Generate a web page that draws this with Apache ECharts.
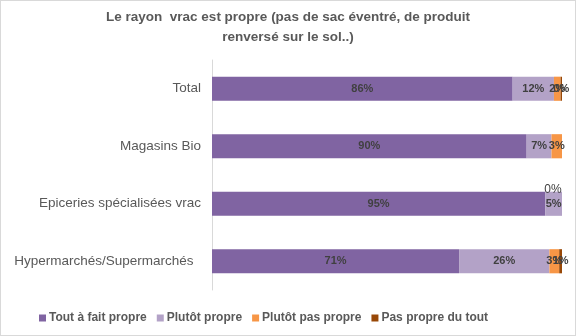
<!DOCTYPE html>
<html>
<head>
<meta charset="utf-8">
<script src="https://cdn.jsdelivr.net/npm/echarts@6/dist/echarts.min.js"></script>
<style>
html,body{margin:0;padding:0;background:#fff;}
#c{width:574px;height:334px;border:1px solid #D9D9D9;}
</style>
</head>
<body>
<div id="c"></div>
<script>
const categories = ['Total', 'Magasins Bio', 'Epiceries spécialisées vrac', 'Hypermarchés/Supermarchés  '];
const seriesNames = ['Tout à fait propre', 'Plutôt propre', 'Plutôt pas propre', 'Pas propre du tout'];
const toutAFait = [85.9, 89.9, 95.2, 70.6];
const plutotPropre = [11.8, 7.1, 4.8, 25.8];
const plutotPas = [1.9, 3.0, 0, 2.8];
const pasDuTout = [0.4, 0, 0, 0.8];
const colors = ['#8064A2', '#B3A2C7', '#F79646', '#984807'];

const values = [toutAFait, plutotPropre, plutotPas, pasDuTout];
const chart = echarts.init(document.getElementById('c'));

const labelStyle = {
  show: true,
  position: 'inside',
  color: '#404040',
  fontFamily: 'Liberation Sans, Arial, sans-serif',
  fontWeight: 'bold',
  fontSize: 11,
  formatter: p => p.value > 0 ? Math.round(p.value) + '%' : ''
};

const series = seriesNames.map((name, i) => ({
  name: name,
  type: 'bar',
  stack: 'total',
  barWidth: '42%',
  itemStyle: { color: colors[i] },
  label: labelStyle,
  data: values[i].map((v, j) => {
    if (i === 2 && j === 2) {
      return { value: v, label: { show: true, position: 'top', distance: 0, offset: [-9, 4], formatter: '0%', color: '#404040', fontWeight: 'normal', fontSize: 12 } };
    }
    return v;
  })
}));

chart.setOption({
  animation: false,
  color: colors,
  title: {
    text: 'Le rayon  vrac est propre (pas de sac éventré, de produit\nrenversé sur le sol..)',
    left: 'center',
    top: 1,
    textStyle: {
      fontFamily: 'Liberation Sans, Arial, sans-serif',
      fontSize: 13.5,
      fontWeight: 'bold',
      color: '#595959',
      lineHeight: 20
    }
  },
  legend: {
    bottom: 6,
    left: 33,
    itemWidth: 7,
    itemHeight: 7,
    itemGap: 10,
    icon: 'rect',
    textStyle: {
      fontFamily: 'Liberation Sans, Arial, sans-serif',
      fontSize: 12,
      fontWeight: 'bold',
      color: '#595959',
      padding: [0, 0, 0, -2]
    },
    data: seriesNames
  },
  grid: { left: 211, right: 13, top: 59, bottom: 45, containLabel: false },
  xAxis: {
    type: 'value',
    min: 0,
    max: 100,
    show: false
  },
  yAxis: {
    type: 'category',
    inverse: true,
    data: categories,
    axisLine: { show: true, lineStyle: { color: '#D9D9D9' } },
    axisTick: { show: false },
    axisLabel: {
      fontFamily: 'Liberation Sans, Arial, sans-serif',
      fontSize: 13.5,
      color: '#595959',
      margin: 11
    }
  },
  series: series
});
</script>
</body>
</html>
